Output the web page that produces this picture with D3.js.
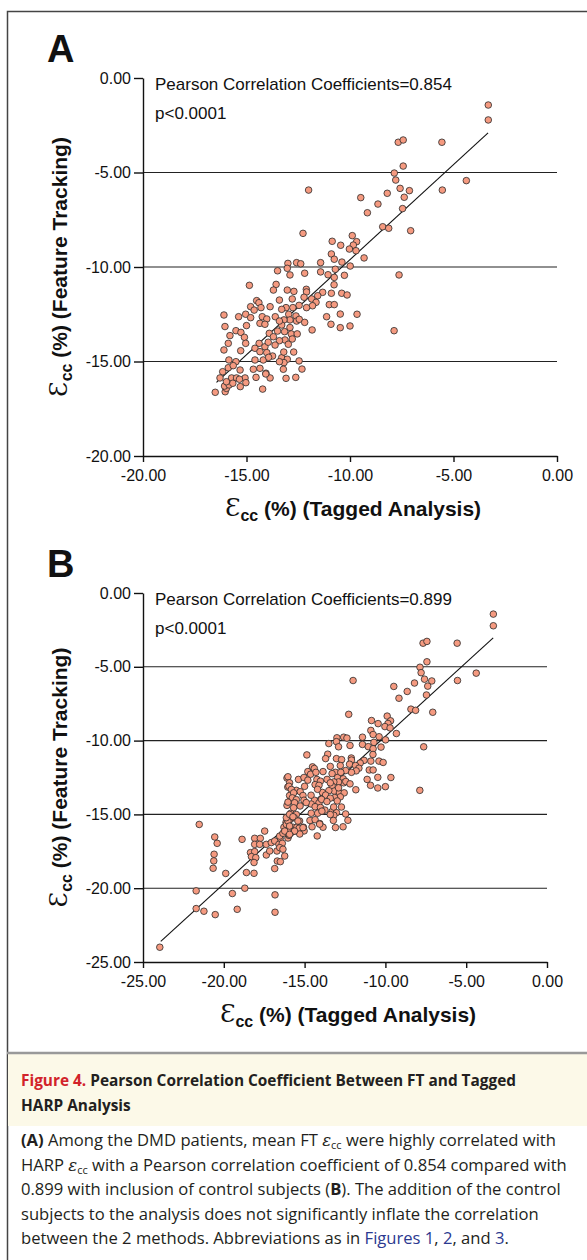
<!DOCTYPE html>
<html>
<head>
<meta charset="utf-8">
<script src="https://cdn.jsdelivr.net/npm/d3@7"></script>
<style>
  body { margin: 0; background: #fff; }
  text { font-family: "Liberation Sans", Arial, Helvetica, sans-serif; fill: #111; }
  .cap { font-family: "Open Sans", "Noto Sans", sans-serif; fill: #231f20; }
</style>
</head>
<body>
<script>
// DMD patients: [tagged eCC, feature tracking eCC] (%)
var dmdPoints = [
  [-3.32,-1.43],[-3.32,-2.22],[-7.67,-3.40],[-7.43,-3.28],[-5.56,-3.40],[-7.43,-4.66],[-7.86,-5.03],[-7.79,-5.40],
  [-4.38,-5.43],[-5.54,-5.93],[-12.0,-5.93],[-7.58,-5.84],[-7.13,-5.96],[-8.2,-6.1],[-9.48,-6.33],[-7.38,-6.31],
  [-8.65,-6.67],[-9.16,-7.13],[-7.46,-6.91],[-8.42,-7.87],[-8.13,-7.95],[-7.07,-8.08],[-12.27,-8.22],[-9.89,-8.34],
  [-10.86,-8.64],[-10.45,-8.85],[-9.68,-8.66],[-9.84,-8.84],[-10.03,-9.05],[-9.71,-9.14],[-10.9,-9.31],[-9.32,-9.52],
  [-10.76,-9.59],[-10.39,-9.74],[-11.42,-9.77],[-13.0,-9.81],[-12.58,-9.77],[-12.38,-9.83],[-9.99,-9.95],[-13.03,-10.07],
  [-10.71,-10.12],[-11.42,-10.26],[-12.19,-10.33],[-12.9,-10.42],[-11.06,-10.41],[-10.27,-10.44],[-10.76,-10.55],[-7.63,-10.42],
  [-10.77,-10.94],[-13.03,-11.22],[-12.71,-11.29],[-12.11,-11.18],[-12.1,-11.32],[-10.9,-11.39],[-10.4,-11.39],[-10.14,-11.48],
  [-11.32,-11.34],[-11.56,-11.52],[-12.22,-11.6],[-11.85,-11.69],[-11.64,-11.87],[-12.79,-11.69],[-11.0,-11.99],[-10.76,-11.99],
  [-11.81,-12.05],[-12.1,-12.15],[-12.46,-12.03],[-13.09,-12.15],[-13.3,-12.24],[-11.13,-12.63],[-10.47,-12.49],[-9.66,-12.5],
  [-12.96,-12.5],[-12.61,-12.59],[-12.58,-12.86],[-12.45,-12.77],[-12.19,-12.93],[-12.9,-12.8],[-13.19,-12.8],[-13.3,-13.07],
  [-10.92,-13.03],[-10.47,-13.21],[-10.0,-13.12],[-11.83,-13.33],[-7.87,-13.37],[-13.16,-13.42],[-12.84,-13.54],[-12.55,-13.54],
  [-12.79,-13.81],[-13.14,-13.86],[-12.98,-14.09],[-12.72,-14.5],[-13.3,-14.8],[-13.03,-14.88],[-13.19,-15.06],[-12.46,-14.97],
  [-12.32,-15.4],[-13.09,-15.89],[-12.62,-15.84],[-12.76,-12.15],[-12.9,-13.2],[-13.2,-14.5],[-13.22,-15.41],
  [-13.5,-10.2],[-14.86,-10.97],[-13.57,-10.92],[-13.7,-11.22],[-14.51,-11.78],[-14.4,-11.89],[-13.41,-11.75],[-13.86,-12.1],
  [-14.8,-12.1],[-14.63,-12.28],[-14.3,-12.15],[-16.09,-12.54],[-15.38,-12.63],[-15.04,-12.5],[-14.8,-12.68],[-14.24,-12.63],
  [-14.02,-12.75],[-13.61,-12.63],[-13.41,-12.86],[-16.04,-13.15],[-15.0,-13.1],[-14.35,-12.98],[-14.11,-13.03],[-15.51,-13.37],
  [-15.27,-13.46],[-15.8,-13.63],[-15.1,-13.72],[-13.9,-13.51],[-13.5,-13.39],[-13.7,-13.69],[-13.41,-13.9],[-15.88,-14.04],
  [-15.04,-14.04],[-14.39,-14.04],[-14.11,-14.22],[-13.95,-13.98],[-13.62,-14.13],[-14.59,-14.3],[-14.35,-14.48],[-14.02,-14.53],
  [-13.74,-14.71],[-16.09,-14.39],[-15.28,-14.43],[-15.85,-14.92],[-15.51,-15.01],[-14.59,-14.92],[-14.19,-14.92],[-13.93,-14.78],
  [-13.41,-15.01],[-16.15,-15.54],[-15.88,-15.33],[-15.64,-15.22],[-15.31,-15.45],[-14.67,-15.41],[-14.35,-15.36],[-14.06,-15.62],
  [-16.28,-15.87],[-15.72,-15.87],[-15.48,-15.87],[-15.07,-15.87],[-13.86,-15.87],
  [-16.51,-16.63],[-16.03,-16.6],[-15.97,-16.42],[-16.06,-16.3],[-15.84,-16.24],[-15.97,-16.07],[-15.66,-16.15],[-15.34,-15.94],
  [-15.03,-16.12],[-15.3,-16.33],[-14.22,-16.46],[-14.54,-15.84],[-14.07,-15.66]
];

// control subjects, only in panel B
var controlPoints = [
  [-21.52,-15.68],[-20.56,-16.53],[-20.41,-16.96],[-20.6,-17.7],[-20.62,-18.15],[-20.66,-18.65],[-19.88,-19.0],[-18.87,-16.69],
  [-17.47,-16.13],[-18.6,-18.94],[-18.13,-18.99],[-18.35,-17.59],[-18.09,-17.52],[-18.29,-17.86],[-18.02,-17.93],[-18.13,-18.26],
  [-18.09,-16.62],[-17.74,-16.62],[-18.09,-17.03],[-17.78,-17.03],[-17.37,-17.03],[-17.06,-16.91],[-16.85,-16.8],[-16.59,-17.03],
  [-16.38,-16.96],[-17.37,-17.75],[-17.16,-17.48],[-16.71,-17.48],[-16.54,-17.25],[-16.34,-17.36],[-16.23,-17.82],[-16.69,-18.16],
  [-16.5,-18.2],[-16.85,-18.67],[-16.54,-16.47],[-16.34,-16.28],[-16.13,-15.68],[-16.03,-15.45],[-16.13,-15.22],[-15.93,-15.0],
  [-15.72,-15.16],[-15.41,-15.45],[-15.93,-15.79],[-15.62,-16.13],[-16.03,-12.45],[-15.93,-12.86],[-15.97,-13.09],[-15.82,-13.31],
  [-15.93,-13.72],[-15.68,-13.54],[-15.76,-13.88],[-15.51,-14.0],[-15.62,-14.21],[-15.68,-14.55],[-16.03,-14.17],
  [-21.71,-20.18],[-21.71,-21.38],[-21.23,-21.56],[-20.53,-21.79],[-19.47,-20.36],[-18.7,-20.0],[-19.17,-21.43],
  [-16.83,-20.45],[-16.83,-21.63],[-23.96,-24.0],[-16.23,-16.13],[-15.93,-16.35],[-15.1,-15.9],[-14.9,-14.2],
  [-14.6,-13.7],[-14.2,-13.3]
];

var fitA = [[-16.45,-16.1],[-3.33,-2.9]];
var fitB = [[-23.9,-23.6],[-3.33,-3.04]];

var xTicksA = [-20,-15,-10,-5,0];
var yTicksA = [0,-5,-10,-15,-20];
var gridA = [-5,-10,-15];
var xTicksB = [-25,-20,-15,-10,-5,0];
var yTicksB = [0,-5,-10,-15,-20,-25];
var gridB = [-5,-10,-15,-20];

var noteA = "Pearson Correlation Coefficients=0.854";
var noteB = "Pearson Correlation Coefficients=0.899";
var pText = "p<0.0001";

var W = 587, H = 1260;
var fmt = d3.formatLocale({decimal: ".", thousands: ",", grouping: [3], currency: ["", ""], minus: "-"}).format(".2f");

var svg = d3.select("body").append("svg").attr("width", W).attr("height", H);

// frame
svg.append("path").attr("d", "M7.5," + H + "V11.5H" + W).attr("fill", "none").attr("stroke", "#444").attr("stroke-width", 1.5);

function panel(cfg) {
  var x = d3.scaleLinear().domain([cfg.xTicks[0], 0]).range([cfg.left, cfg.right]);
  var y = d3.scaleLinear().domain([cfg.yTicks[cfg.yTicks.length - 1], 0]).range([cfg.bottom, cfg.top]);
  var g = svg.append("g");

  g.append("text").attr("x", 47).attr("y", cfg.top - 16).text(cfg.letter)
    .style("font-size", "38px").style("font-weight", "bold");

  g.selectAll(".grid").data(cfg.grid).enter().append("line")
    .attr("x1", x(cfg.xTicks[0])).attr("x2", x(0))
    .attr("y1", function (d) { return y(d); }).attr("y2", function (d) { return y(d); })
    .attr("stroke", "#222").attr("stroke-width", 1.1);

  var ya = g.append("g").attr("transform", "translate(" + cfg.left + ",0)")
    .call(d3.axisLeft(y).tickValues(cfg.yTicks).tickFormat(fmt).tickSize(9).tickSizeOuter(0).tickPadding(3));
  var xa = g.append("g").attr("transform", "translate(0," + cfg.bottom + ")")
    .call(d3.axisBottom(x).tickValues(cfg.xTicks).tickFormat(fmt).tickSize(6).tickSizeOuter(0).tickPadding(8));
  [ya, xa].forEach(function (a) {
    a.selectAll("path, line").attr("stroke", "#111").attr("stroke-width", 1.4);
    a.selectAll("text").style("font-size", "16px").style("font-family", "Liberation Sans, Arial, sans-serif").attr("fill", "#111");
  });

  g.append("path").datum(cfg.fit)
    .attr("d", d3.line().x(function (d) { return x(d[0]); }).y(function (d) { return y(d[1]); }))
    .attr("stroke", "#111").attr("stroke-width", 1.1).attr("fill", "none");

  g.selectAll("circle").data(cfg.points).enter().append("circle")
    .attr("cx", function (d) { return x(d[0]); }).attr("cy", function (d) { return y(d[1]); })
    .attr("r", 3.3).attr("fill", "#f59a80").attr("stroke", "#2a2a2a").attr("stroke-width", 0.8);

  g.append("text").attr("x", cfg.left + 12).attr("y", cfg.top + 12).text(cfg.note).style("font-size", "17px");
  g.append("text").attr("x", cfg.left + 12).attr("y", cfg.top + 41).text(pText).style("font-size", "17px");

  // axis titles
  function title(sel, rest) {
    sel.append("tspan").text("\u0190").style("font-family", "DejaVu Serif, serif").style("font-size", "25px");
    sel.append("tspan").text("cc").attr("dy", 5).style("font-size", "16px").style("font-weight", "bold");
    sel.append("tspan").text(" (%) " + rest).attr("dy", -5).style("font-size", "21px").style("font-weight", "bold");
  }
  var xt = g.append("text").attr("x", (cfg.left + cfg.right) / 2 + 3).attr("y", cfg.bottom + 60).attr("text-anchor", "middle");
  title(xt, "(Tagged Analysis)");
  var yt = g.append("text").attr("text-anchor", "middle")
    .attr("transform", "translate(" + 67 + "," + (cfg.top + cfg.bottom) / 2 + ") rotate(-90)");
  title(yt, "(Feature Tracking)");
}

panel({letter: "A", left: 143, right: 557, top: 78, bottom: 456, xTicks: xTicksA, yTicks: yTicksA,
  grid: gridA, points: dmdPoints, fit: fitA, note: noteA});
panel({letter: "B", left: 143, right: 547, top: 593, bottom: 962, xTicks: xTicksB, yTicks: yTicksB,
  grid: gridB, points: dmdPoints.concat(controlPoints), fit: fitB, note: noteB});

// caption
svg.append("rect").attr("x", 8).attr("y", 1054).attr("width", W - 8).attr("height", 72).attr("fill", "#fcf9e8");
svg.append("line").attr("x1", 7).attr("x2", W).attr("y1", 1053).attr("y2", 1053).attr("stroke", "#999").attr("stroke-width", 2.5);

var h1 = svg.append("text").attr("class", "cap").attr("x", 21).attr("y", 1086).style("font-size", "15.4px").style("font-weight", "bold");
h1.append("tspan").text("Figure 4. ").style("fill", "#d2232a");
h1.append("tspan").text("Pearson Correlation Coefficient Between FT and Tagged");
svg.append("text").attr("class", "cap").attr("x", 21).attr("y", 1111).style("font-size", "15.4px").style("font-weight", "bold").text("HARP Analysis");

var capLines = [
  [["(A)", "b"], [" Among the DMD patients, mean FT "], ["\u03b5", "e"], ["cc", "s"], [" were highly correlated with"]],
  [["HARP "], ["\u03b5", "e"], ["cc", "s"], [" with a Pearson correlation coefficient of 0.854 compared with"]],
  [["0.899 with inclusion of control subjects ("], ["B", "b"], ["). The addition of the control"]],
  [["subjects to the analysis does not significantly inflate the correlation"]],
  [["between the 2 methods. Abbreviations as in "], ["Figures 1", "l"], [", "], ["2", "l"], [", and "], ["3", "l"], ["."]]
];
capLines.forEach(function (line, i) {
  var t = svg.append("text").attr("class", "cap").attr("x", 21).attr("y", 1146 + i * 24.5).style("font-size", "16.6px");
  var shifted = false;
  line.forEach(function (part) {
    var s = t.append("tspan").text(part[0]);
    if (shifted && part[1] !== "s") { s.attr("dy", -3); shifted = false; }
    if (part[1] === "b") s.style("font-weight", "bold");
    if (part[1] === "l") s.style("fill", "#2b3990");
    if (part[1] === "e") s.style("font-style", "italic").style("font-family", "DejaVu Serif, serif");
    if (part[1] === "s") { s.attr("dy", 3).style("font-size", "11px"); shifted = true; }
  });
});
</script>
</body>
</html>
